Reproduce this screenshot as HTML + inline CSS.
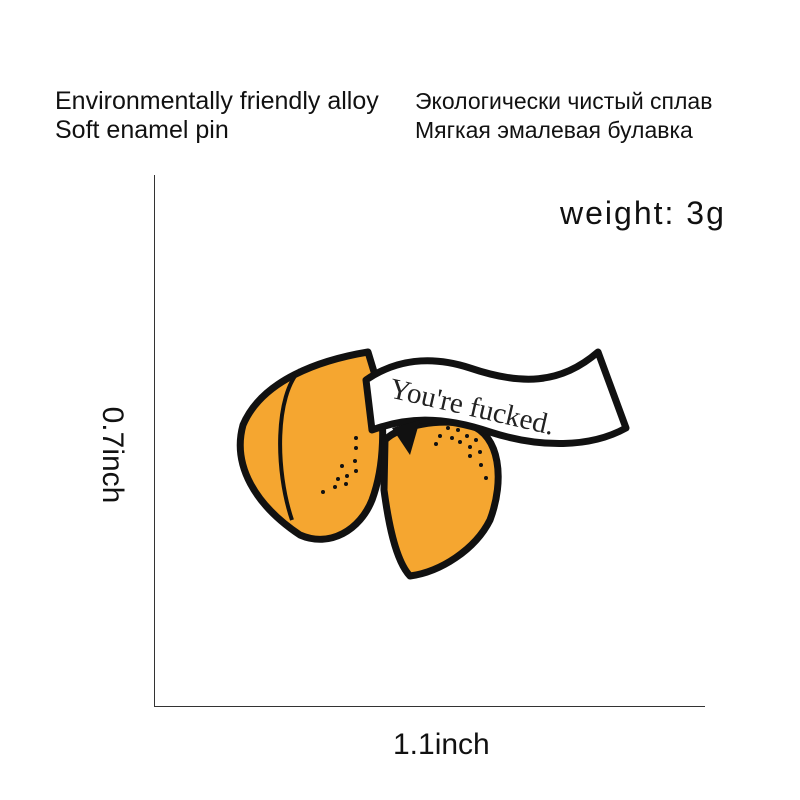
<!DOCTYPE html><html><head><style>body{margin:0;background:#fff;width:800px;height:800px;overflow:hidden;position:relative;font-family:"Liberation Sans","DejaVu Sans",sans-serif}
.t{position:absolute;font-size:25px;color:#111;line-height:1;white-space:nowrap}
</style></head><body>
<div class="t" style="left:55px;top:89px">Environmentally friendly alloy</div>
<div class="t" style="left:55px;top:118px">Soft enamel pin</div>
<div class="t" style="left:415px;top:90px;font-size:23px">Экологически чистый сплав</div>
<div class="t" style="left:415px;top:119px;font-size:23px">Мягкая эмалевая булавка</div>
<div class="t" style="left:560px;top:197px;font-size:32px;letter-spacing:2px">weight: 3g</div>
<div style="position:absolute;left:154px;top:175px;width:1px;height:532px;background:#333"></div>
<div style="position:absolute;left:154px;top:706px;width:551px;height:1px;background:#333"></div>
<div class="t" style="left:393px;top:730px;font-size:30px">1.1inch</div>
<div class="t" style="left:52px;top:440px;font-size:30px;transform:rotate(90deg);transform-origin:center;width:120px;text-align:center">0.7inch</div>
<svg width="800" height="800" style="position:absolute;left:0;top:0">
<g stroke="#111" stroke-width="7" stroke-linejoin="round">
<path d="M368,352 C320,360 262,380 243,425 C232,465 255,505 300,535 C330,548 360,530 372,500 C385,465 385,420 378,385 Z" fill="#f5a630"/>
<path d="M385,440 C400,425 440,418 470,425 C500,435 505,480 490,520 C475,550 440,572 410,576 C395,560 388,520 384,490 Z" fill="#f5a630"/>
<path d="M366,380 C395,360 430,355 470,368 C520,385 560,385 598,352 L626,428 C590,448 540,448 490,432 C440,415 405,418 372,430 Z" fill="#fff"/>
</g>
<path d="M392,428 L420,420 L410,455 Z" fill="#111"/>
<path d="M300,370 C275,395 275,470 292,520" stroke="#111" stroke-width="4" fill="none"/>
<g fill="#111"><circle cx="356" cy="438" r="2"/><circle cx="356" cy="448" r="2"/><circle cx="355" cy="461" r="2"/><circle cx="342" cy="466" r="2"/><circle cx="356" cy="471" r="2"/><circle cx="347" cy="476" r="2"/><circle cx="338" cy="479" r="2"/><circle cx="346" cy="484" r="2"/><circle cx="335" cy="487" r="2"/><circle cx="323" cy="492" r="2"/>
<circle cx="448" cy="428" r="2"/><circle cx="458" cy="430" r="2"/><circle cx="467" cy="436" r="2"/><circle cx="440" cy="436" r="2"/><circle cx="452" cy="438" r="2"/><circle cx="476" cy="440" r="2"/><circle cx="436" cy="444" r="2"/><circle cx="460" cy="442" r="2"/><circle cx="470" cy="447" r="2"/><circle cx="480" cy="452" r="2"/><circle cx="470" cy="456" r="2"/><circle cx="481" cy="465" r="2"/><circle cx="486" cy="478" r="2"/></g>
<text x="388" y="397" transform="rotate(13 388 397)" font-family="Liberation Serif,serif" font-size="29" fill="#222">You're fucked.</text>
</svg>
</body></html>
